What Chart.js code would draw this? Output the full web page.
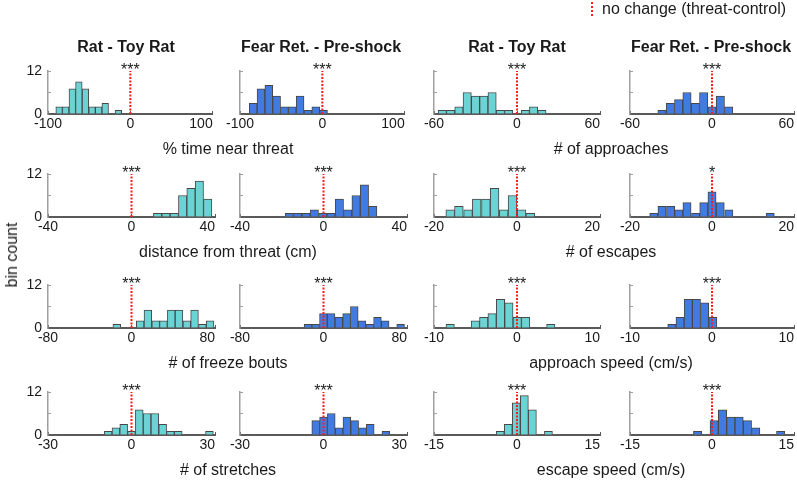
<!DOCTYPE html>
<html>
<head>
<meta charset="utf-8">
<script src="https://cdn.jsdelivr.net/npm/chart.js@4.4.1/dist/chart.umd.min.js"></script>
<style>
  html, body { margin: 0; padding: 0; background: #fff; overflow: hidden; }
  body { position: relative; width: 797px; height: 481px; font-family: "Liberation Sans", Arial, sans-serif; color: #1a1a1a; }
  canvas { position: absolute; }
  .txt { position: absolute; white-space: nowrap; font-size: 16px; line-height: 20px; transform: translateX(-50%); }
  .ttl { font-weight: bold; }
</style>
</head>
<body>
<script>
// column headers and x-axis titles
const groups = ['Rat - Toy Rat', 'Fear Ret. - Pre-shock', 'Rat - Toy Rat', 'Fear Ret. - Pre-shock'];
const measures = [
  ['% time near threat', '# of approaches'],
  ['distance from threat (cm)', '# of escapes'],
  ['# of freeze bouts', 'approach speed (cm/s)'],
  ['# of stretches', 'escape speed (cm/s)']
];
// x range (+/-) per row, left pair then right pair
const xLimits = [[100, 60], [40, 20], [80, 10], [30, 15]];
const yTicks = [0, 6, 12];
const stars = [
  ['***', '***', '***', '***'],
  ['***', '***', '***', '*'],
  ['***', '***', '***', '***'],
  ['***', '***', '***', '***']
];

// histogram bin centers and counts
const timeRatBins = [-86.5, -78.5, -70.5, -62.5, -54.5, -46.5, -38.5, -30.5, -22.5, -14.5];
const timeRat = [2, 2, 7, 9, 7, 2, 2, 3, 0, 1];
const timeFearBins = [-84, -74.5, -65, -55.5, -46, -36.5, -27, -17.5, -8, 1.5];
const timeFear = [3, 7, 8, 5, 2, 2, 5, 1, 2, 1];
const apprRatBins = [-54, -48, -42, -36, -30, -24, -18, -12, -6, 0, 6, 12, 18];
const apprRat = [1, 1, 2, 6, 5, 5, 6, 1, 1, 0, 1, 2, 1];
const apprFearBins = [-36.6, -30.5, -24.4, -18.3, -12.2, -6.1, 0, 6.1, 12.2];
const apprFear = [1, 3, 4, 6, 3, 6, 2, 5, 2];

const distRatBins = [12.5, 16.5, 20.5, 24.5, 28.5, 32.5, 36.5];
const distRat = [1, 1, 1, 6, 8, 10, 5];
const distFearBins = [-16.4, -12.4, -8.4, -4.4, -0.4, 3.6, 7.6, 11.6, 15.6, 19.6, 23.6];
const distFear = [1, 1, 1, 2, 1, 1, 5, 2, 6, 9, 3];
const escRatBins = [-16.1, -14, -11.8, -9.7, -7.5, -5.4, -3.2, -1.1, 1.1, 3.2];
const escRat = [2, 3, 2, 5, 5, 8, 2, 6, 2, 1];
const escFearBins = [-14.2, -12.2, -10.1, -8.1, -6.1, -4, -2, 0, 2, 4.1, 6.1, 8.1, 10.2, 12.2, 14.2];
const escFear = [1, 3, 3, 2, 4, 1, 4, 7, 4, 2, 0, 0, 0, 0, 1];

const freezeRatBins = [-14.1, -6.6, 0.8, 8.3, 15.7, 23.2, 30.6, 38.1, 45.5, 53, 60.4, 67.9, 75.3];
const freezeRat = [1, 0, 0, 2, 5, 2, 2, 5, 5, 2, 5, 1, 2];
const freezeFearBins = [-14.9, -7.5, -0.1, 7.3, 14.7, 22.1, 29.5, 36.9, 44.3, 51.7, 59.1, 66.5, 73.9];
const freezeFear = [1, 1, 4, 4, 3, 4, 6, 2, 1, 3, 2, 0, 1];
const apSpeedRatBins = [-8.05, -7.04, -6.03, -5.02, -4.01, -3, -1.99, -0.98, 0.03, 1.04, 2.05, 3.06, 4.07];
const apSpeedRat = [1, 0, 0, 2, 3, 4, 8, 7, 3, 3, 0, 0, 1];
const apSpeedFearBins = [-4.9, -3.9, -2.9, -1.9, -0.9, 0.1];
const apSpeedFear = [1, 3, 8, 8, 7, 3];

const stretchRatBins = [-8.4, -5.6, -2.8, 0, 2.8, 5.6, 8.4, 11.2, 14, 16.8, 19.6, 22.4, 25.2, 28];
const stretchRat = [1, 2, 3, 1, 7, 6, 6, 3, 1, 1, 0, 0, 0, 1];
const stretchFearBins = [-2.8, 0, 2.8, 5.6, 8.4, 11.2, 14, 16.8, 19.6, 22.4];
const stretchFear = [4, 5, 6, 2, 5, 4, 2, 3, 0, 1];
const esSpeedRatBins = [-3.03, -1.58, -0.13, 1.33, 2.78, 4.23, 5.68];
const esSpeedRat = [1, 3, 9, 11, 7, 0, 1];
const esSpeedFearBins = [-2.64, -1.12, 0.4, 1.92, 3.44, 4.96, 6.48, 8, 9.52, 11.04, 12.56];
const esSpeedFear = [1, 0, 4, 7, 5, 5, 4, 2, 0, 0, 1];

// layout (pixels)
const colLeft = [48, 240, 434, 630];
const colWidth = [167, 167, 166, 164];
const rowTop = [71, 174, 285, 392];
const plotH = 43;
const padL = 30, padR = 26, padT = 22, padB = 24;
const fillColors = ['#6cd3d5', '#417be2'];

const panels = [
  [[timeRatBins, timeRat], [timeFearBins, timeFear], [apprRatBins, apprRat], [apprFearBins, apprFear]],
  [[distRatBins, distRat], [distFearBins, distFear], [escRatBins, escRat], [escFearBins, escFear]],
  [[freezeRatBins, freezeRat], [freezeFearBins, freezeFear], [apSpeedRatBins, apSpeedRat], [apSpeedFearBins, apSpeedFear]],
  [[stretchRatBins, stretchRat], [stretchFearBins, stretchFear], [esSpeedRatBins, esSpeedRat], [esSpeedFearBins, esSpeedFear]]
];

Chart.defaults.font.family = '"Liberation Sans", Arial, sans-serif';
Chart.defaults.color = '#1a1a1a';

const starPlugin = {
  id: 'stars',
  afterDatasetsDraw(chart, args, opts) {
    const ctx = chart.ctx;
    const x = chart.scales.x.getPixelForValue(0);
    ctx.save();
    ctx.font = '16px "Liberation Sans", Arial, sans-serif';
    ctx.fillStyle = '#1a1a1a';
    ctx.textAlign = 'center';
    ctx.textBaseline = 'alphabetic';
    ctx.fillText(opts.text, x, chart.chartArea.top + 4);
    ctx.restore();
  }
};

function addText(str, cx, top, cls) {
  const d = document.createElement('div');
  d.className = 'txt' + (cls ? ' ' + cls : '');
  d.textContent = str;
  d.style.left = cx + 'px';
  d.style.top = top + 'px';
  document.body.appendChild(d);
  return d;
}

// last x label sits inside the axis end, like the figure
function xLabel(v, i, ticks) {
  const s = String(v);
  return i === ticks.length - 1 ? s + ' '.repeat(2 * s.length) : s;
}

function makePanel(row, col) {
  const bins = panels[row][col][0];
  const counts = panels[row][col][1];
  const lim = xLimits[row][col < 2 ? 0 : 1];
  const cv = document.createElement('canvas');
  cv.width = colWidth[col] + padL + padR;
  cv.height = plotH + padT + padB;
  cv.style.left = (colLeft[col] - padL) + 'px';
  cv.style.top = (rowTop[row] - padT) + 'px';
  document.body.appendChild(cv);

  new Chart(cv, {
    type: 'bar',
    data: {
      datasets: [
        {
          type: 'line',
          data: [{x: 0, y: yTicks[0]}, {x: 0, y: yTicks[2]}],
          borderColor: '#ff1a1a',
          borderWidth: 2,
          borderDash: [2, 1.5],
          pointRadius: 0,
          order: 0
        },
        {
          data: bins.map((b, i) => ({x: b, y: counts[i]})),
          backgroundColor: fillColors[col % 2],
          borderColor: '#474747',
          borderWidth: 1,
          barPercentage: 1,
          categoryPercentage: 1,
          order: 1
        }
      ]
    },
    options: {
      responsive: false,
      animation: false,
      events: [],
      layout: { padding: { left: 0, top: padT, right: padR, bottom: 0 } },
      scales: {
        x: {
          type: 'linear',
          offset: false,
          min: -lim,
          max: lim,
          afterFit: s => { s.height = padB; },
          border: { color: '#5a5a5a', width: 2 },
          grid: { offset: false, drawOnChartArea: false, tickLength: -3, color: '#5a5a5a' },
          ticks: {
            stepSize: lim,
            autoSkip: false,
            maxRotation: 0,
            padding: 5,
            color: '#1a1a1a',
            font: { size: 14 },
            callback: xLabel
          }
        },
        y: {
          min: yTicks[0],
          max: yTicks[2],
          afterFit: s => { s.width = padL; },
          border: { color: '#a0a0a0', width: 1.5 },
          grid: { drawOnChartArea: false, tickLength: -3, color: '#a0a0a0' },
          ticks: {
            stepSize: yTicks[1],
            padding: 9,
            color: '#1a1a1a',
            font: { size: 14 },
            callback: v => (col === 0 && v !== yTicks[1]) ? String(v) : ''
          }
        }
      },
      plugins: {
        legend: { display: false },
        tooltip: { enabled: false },
        stars: { text: stars[row][col] }
      }
    },
    plugins: [starPlugin]
  });
}

for (let r = 0; r < 4; r++) {
  for (let c = 0; c < 4; c++) makePanel(r, c);
  addText(measures[r][0], 228, rowTop[r] + plotH + 25);
  addText(measures[r][1], 611, rowTop[r] + plotH + 25);
}

const titleCenters = [126, 321, 517, 711];
groups.forEach((g, i) => addText(g, titleCenters[i], 37, 'ttl'));

// y label
const yl = addText('bin count', 12, 245);
yl.style.transform = 'translateX(-50%) rotate(-90deg)';

// legend
const key = document.createElement('div');
key.style.cssText = 'position:absolute;left:591px;top:2px;width:0;height:14px;border-left:2px dotted #ff1a1a;';
document.body.appendChild(key);
const keyTxt = addText('no change (threat-control)', 602, -1);
keyTxt.style.transform = 'none';
</script>
</body>
</html>
